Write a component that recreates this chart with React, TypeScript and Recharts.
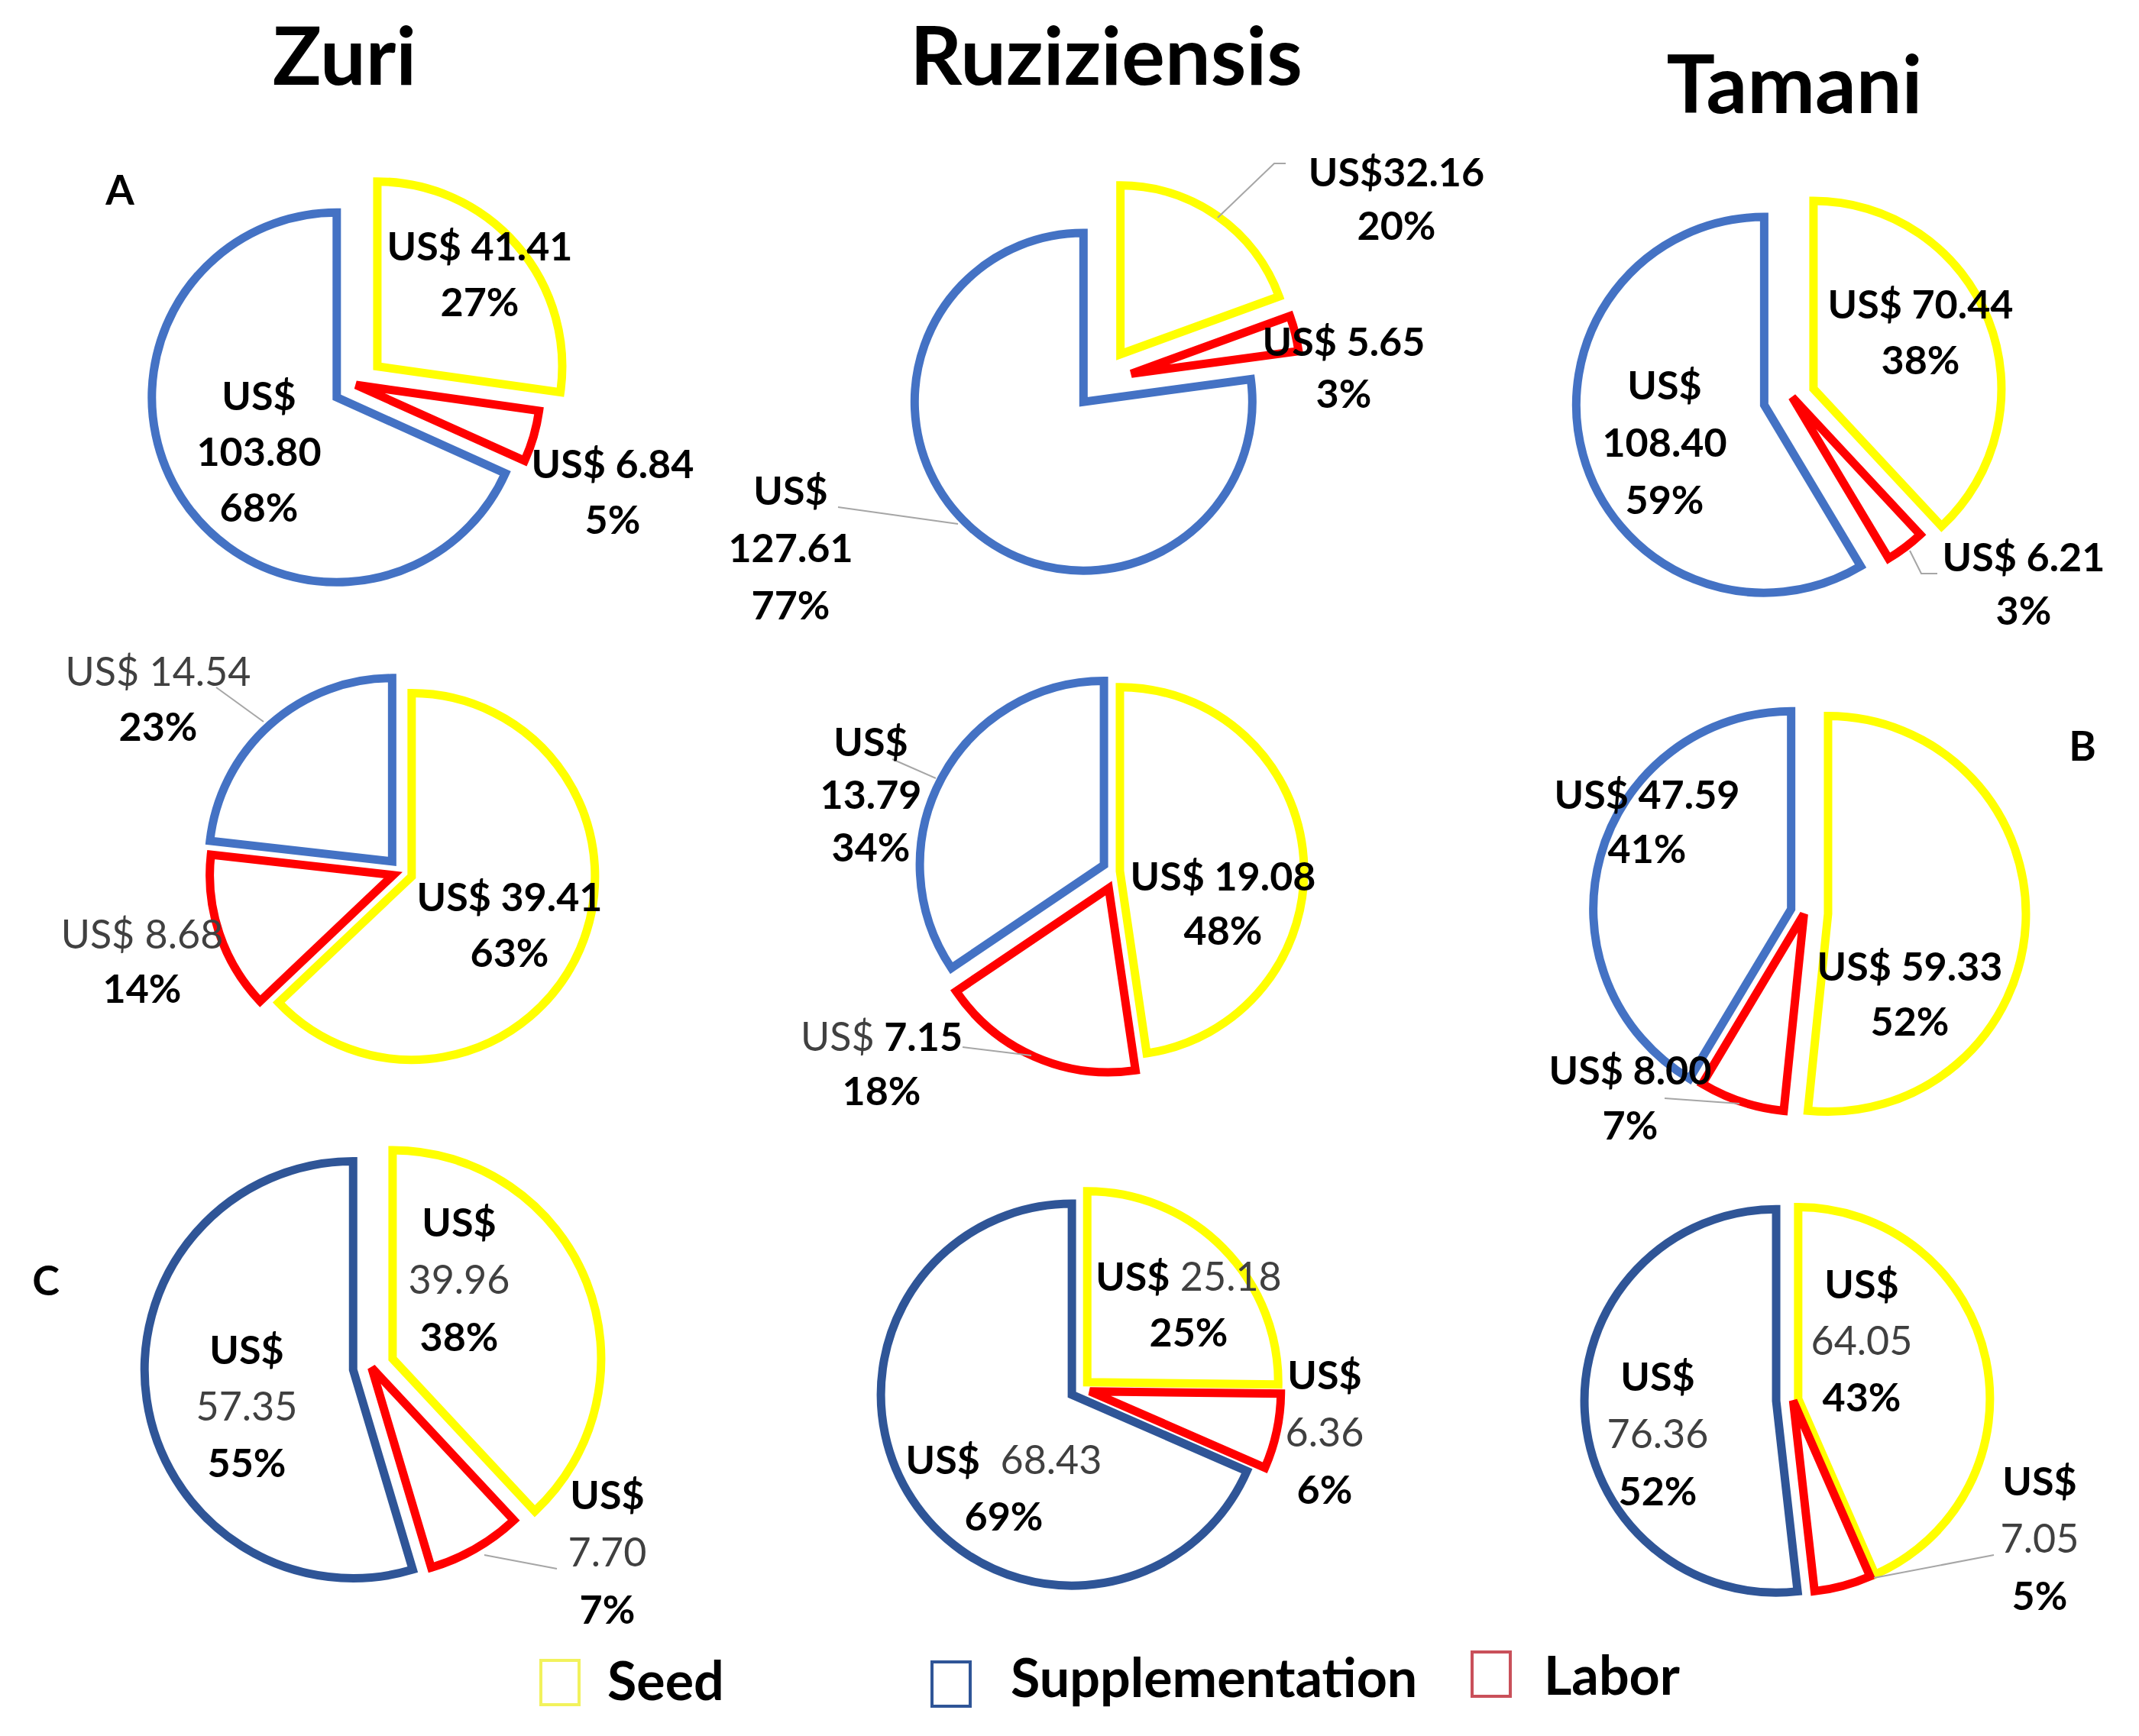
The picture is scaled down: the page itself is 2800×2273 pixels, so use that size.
import React from "react";
import { PieChart, Pie, Cell, Sector } from "recharts";

// charts are read row by row: A (Zuri, Ruziziensis, Tamani), then B, then C
const grasses = ["Zuri", "Ruziziensis", "Tamani"];
const panels = ["A", "B", "C"];
const categories = ["Seed", "Supplementation", "Labor"];

const seedCost = [41.41, 32.16, 70.44, 39.41, 19.08, 59.33, 39.96, 25.18, 64.05];
const laborCost = [6.84, 5.65, 6.21, 8.68, 7.15, 8.0, 7.7, 6.36, 7.05];
const supplementationCost = [103.8, 127.61, 108.4, 14.54, 13.79, 47.59, 57.35, 68.43, 76.36];

const seedPct = [27, 20, 38, 63, 48, 52, 38, 25, 43];
const laborPct = [5, 3, 3, 14, 18, 7, 7, 6, 5];
const supplementationPct = [68, 77, 59, 23, 34, 41, 55, 69, 52];

const FONT = "Lato, Carlito, Calibri, 'Open Sans', sans-serif";
const SEED_COLOR = "#FFFF00";
const LABOR_COLOR = "#FF0000";
const SUPP_COLOR = "#4472C4";
const SUPP_COLOR_C = "#2F5597";

type Explode = { [k: string]: number };
const pieLayout: { cx: number; cy: number; r: number; explode: Explode }[] = [
  { cx: 466, cy: 504, r: 242, explode: { Seed: 37, Labor: 0, Supplementation: 30 } },
  { cx: 1442, cy: 499, r: 221, explode: { Seed: 43, Labor: 40, Supplementation: 36 } },
  { cx: 2346, cy: 520, r: 246, explode: { Seed: 30, Labor: 0, Supplementation: 38 } },
  { cx: 526, cy: 1142, r: 240, explode: { Seed: 14, Labor: 12, Supplementation: 19 } },
  { cx: 1461, cy: 1141, r: 241, explode: { Seed: 5, Labor: 24, Supplementation: 18 } },
  { cx: 2362, cy: 1195, r: 259, explode: { Seed: 31, Labor: 2, Supplementation: 18 } },
  { cx: 486, cy: 1790, r: 273, explode: { Seed: 30, Labor: 1, Supplementation: 24 } },
  { cx: 1414, cy: 1819, r: 250, explode: { Seed: 13, Labor: 13, Supplementation: 13 } },
  { cx: 2347, cy: 1833, r: 251, explode: { Seed: 7, Labor: 1, Supplementation: 22 } },
];

type LabelSpec = {
  x: number;
  y: number;
  split?: boolean;
  gap?: string;
  pre?: "b" | "n";
  num?: "b" | "n";
  step?: number;
  leader?: number[][];
};

const labelSpecs: { [k: string]: LabelSpec }[] = [
  {
    Seed: { x: 628, y: 341 },
    Labor: { x: 802, y: 626 },
    Supplementation: { x: 339, y: 537, split: true },
  },
  {
    Seed: { x: 1828, y: 244, gap: "", step: 70, leader: [[1683, 214], [1668, 214], [1594, 285]] },
    Labor: { x: 1759, y: 466, step: 68 },
    Supplementation: { x: 1035, y: 661, split: true, step: 75, leader: [[1097, 664], [1254, 686]] },
  },
  {
    Seed: { x: 2514, y: 417 },
    Labor: { x: 2649, y: 748, step: 70, leader: [[2536, 751], [2515, 751], [2500, 721]] },
    Supplementation: { x: 2179, y: 523, split: true, step: 75 },
  },
  {
    Seed: { x: 667, y: 1193 },
    Labor: { x: 186, y: 1242, pre: "n", num: "n", step: 71 },
    Supplementation: { x: 207, y: 898, pre: "n", num: "n", step: 72, leader: [[283, 900], [345, 945]] },
  },
  {
    Seed: { x: 1601, y: 1166, step: 71 },
    Labor: { x: 1154, y: 1376, pre: "n", step: 71, leader: [[1260, 1371], [1350, 1382]] },
    Supplementation: { x: 1140, y: 990, split: true, step: 69, leader: [[1168, 994], [1225, 1019]] },
  },
  {
    Seed: { x: 2500, y: 1284, step: 72 },
    Labor: { x: 2134, y: 1420, step: 72, leader: [[2179, 1438], [2277, 1445]] },
    Supplementation: { x: 2156, y: 1059, step: 71 },
  },
  {
    Seed: { x: 601, y: 1619, split: true, num: "n", step: 75 },
    Labor: { x: 795, y: 1976, split: true, num: "n", step: 75, leader: [[729, 2054], [634, 2036]] },
    Supplementation: { x: 323, y: 1786, split: true, num: "n", step: 74 },
  },
  {
    Seed: { x: 1556, y: 1690, num: "n", step: 73 },
    Labor: { x: 1734, y: 1819, split: true, num: "n", step: 75 },
    Supplementation: { x: 1314, y: 1930, gap: "  ", num: "n", step: 74 },
  },
  {
    Seed: { x: 2437, y: 1700, split: true, num: "n", step: 74 },
    Labor: { x: 2670, y: 1958, split: true, num: "n", step: 75, leader: [[2610, 2036], [2453, 2066]] },
    Supplementation: { x: 2170, y: 1821, split: true, num: "n", step: 75 },
  },
];

const weight = (w: "b" | "n") =>
  w === "b" ? { fontWeight: 700, fill: "#000" } : { fontWeight: 400, fill: "#404040" };

const buildData = (k: number) => [
  { name: "Seed", value: seedCost[k], pct: seedPct[k] },
  { name: "Labor", value: laborCost[k], pct: laborPct[k] },
  { name: "Supplementation", value: supplementationCost[k], pct: supplementationPct[k] },
];

const colorOf = (name: string, k: number) =>
  name === "Seed" ? SEED_COLOR : name === "Labor" ? LABOR_COLOR : k >= 6 ? SUPP_COLOR_C : SUPP_COLOR;

const makeShape = (k: number) => (props: any) => {
  const d = pieLayout[k].explode[props.name] ?? 0;
  const a = (-props.midAngle * Math.PI) / 180;
  return (
    <Sector
      {...props}
      cx={props.cx + d * Math.cos(a)}
      cy={props.cy + d * Math.sin(a)}
      strokeLinejoin="miter"
    />
  );
};

const makeLabel = (k: number) => (props: any) => {
  const name = props.name as string;
  const spec = labelSpecs[k][name];
  if (!spec) return null;
  const row = buildData(k).find((r) => r.name === name)!;
  const step = spec.step ?? 73;
  const gap = spec.gap ?? " ";
  const pre = weight(spec.pre ?? "b");
  const num = weight(spec.num ?? "b");
  const common = { textAnchor: "middle" as const, fontFamily: FONT, fontSize: 52, style: { whiteSpace: "pre" as const } };
  return (
    <g key={`lbl-${k}-${name}`}>
      {spec.leader && (
        <polyline
          points={spec.leader.map((p) => p.join(",")).join(" ")}
          fill="none"
          stroke="#A6A6A6"
          strokeWidth={2}
        />
      )}
      {spec.split ? (
        <>
          <text x={spec.x} y={spec.y} {...common} {...pre}>US$</text>
          <text x={spec.x} y={spec.y + step} {...common} {...num}>{row.value.toFixed(2)}</text>
          <text x={spec.x} y={spec.y + 2 * step} {...common} {...weight("b")}>{`${row.pct}%`}</text>
        </>
      ) : (
        <>
          <text x={spec.x} y={spec.y} {...common}>
            <tspan {...pre}>US$</tspan>
            <tspan {...num}>{gap + row.value.toFixed(2)}</tspan>
          </text>
          <text x={spec.x} y={spec.y + step} {...common} {...weight("b")}>{`${row.pct}%`}</text>
        </>
      )}
    </g>
  );
};

const titlePos = [
  { x: 451, y: 111 },
  { x: 1448, y: 111 },
  { x: 2349, y: 148 },
];
const panelPos = [
  { x: 157, y: 268 },
  { x: 2726, y: 996 },
  { x: 60, y: 1696 },
];
const legendPos = [
  { box: [708, 2174], text: [795, 2226], color: "#F2F25C" },
  { box: [1220, 2176], text: [1323, 2222], color: "#2F5597" },
  { box: [1927, 2163], text: [2021, 2219], color: "#C9505A" },
];

export default function App() {
  return (
    <div
      style={{
        position: "absolute",
        left: 0,
        top: 0,
        width: 2800,
        height: 2273,
        background: "#fff",
        overflow: "hidden",
      }}
    >
      <PieChart width={2800} height={2273} margin={{ top: 0, right: 0, bottom: 0, left: 0 }}>
        {pieLayout.map((p, k) => {
          const data = buildData(k);
          return (
            <Pie
              key={`pie-${k}`}
              data={data}
              dataKey="value"
              nameKey="name"
              cx={p.cx}
              cy={p.cy}
              innerRadius={0}
              outerRadius={p.r}
              startAngle={90}
              endAngle={-270}
              isAnimationActive={false}
              labelLine={false}
              label={makeLabel(k)}
              shape={makeShape(k)}
            >
              {data.map((entry, i) => (
                <Cell
                  key={`cell-${k}-${i}`}
                  fill="none"
                  stroke={colorOf(entry.name, k)}
                  strokeWidth={11}
                />
              ))}
            </Pie>
          );
        })}
      </PieChart>
      <svg
        width={2800}
        height={2273}
        style={{ position: "absolute", left: 0, top: 0, pointerEvents: "none" }}
      >
        {grasses.map((g, i) => (
          <text
            key={g}
            x={titlePos[i].x}
            y={titlePos[i].y}
            textAnchor="middle"
            fontFamily={FONT}
            fontWeight={700}
            fontSize={106}
          >
            {g}
          </text>
        ))}
        {panels.map((p, i) => (
          <text
            key={p}
            x={panelPos[i].x}
            y={panelPos[i].y}
            textAnchor="middle"
            fontFamily={FONT}
            fontWeight={700}
            fontSize={54}
          >
            {p}
          </text>
        ))}
        {categories.map((c, i) => (
          <g key={c}>
            <rect
              x={legendPos[i].box[0]}
              y={legendPos[i].box[1]}
              width={50}
              height={58}
              fill="#fff"
              stroke={legendPos[i].color}
              strokeWidth={4}
            />
            <text
              x={legendPos[i].text[0]}
              y={legendPos[i].text[1]}
              fontFamily={FONT}
              fontWeight={700}
              fontSize={70}
            >
              {c}
            </text>
          </g>
        ))}
      </svg>
    </div>
  );
}
